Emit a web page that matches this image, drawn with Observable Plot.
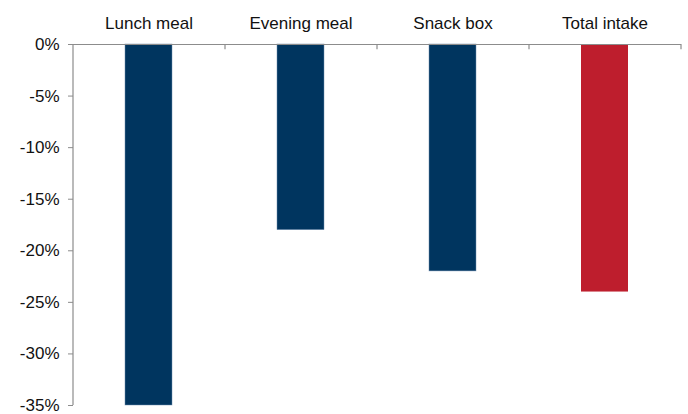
<!DOCTYPE html>
<html>
<head>
<meta charset="utf-8">
<script src="https://cdn.jsdelivr.net/npm/d3@7"></script>
<script src="https://cdn.jsdelivr.net/npm/@observablehq/plot@0.6"></script>
<style>
  html, body { margin: 0; padding: 0; background: #fff; }
  #chart { width: 688px; height: 414px; }
</style>
</head>
<body>
<div id="chart"></div>
<script>
const categories = ["Lunch meal", "Evening meal", "Snack box", "Total intake"];
const values = [-35, -18, -22, -24];
const colors = ["#00355F", "#00355F", "#00355F", "#BE1E2D"];
const yTicks = [0, -5, -10, -15, -20, -25, -30, -35];

const data = categories.map((c, i) => ({ category: c, value: values[i], color: colors[i] }));

const W = 688, H = 414;
const mL = 73, mR = 7, mT = 44, mB = 9;
const step = (W - mL - mR) / categories.length;
const axisGray = "#8c8c8c";

const chart = Plot.plot({
  width: W,
  height: H,
  marginLeft: mL,
  marginRight: mR,
  marginTop: mT,
  marginBottom: mB,
  style: { fontFamily: "Liberation Sans, Arial, sans-serif", fontSize: "17px", color: "#111", background: "#fff", overflow: "visible" },
  x: { domain: categories, paddingInner: 0.69, paddingOuter: 0.345, axis: null },
  y: { domain: [-35, 0], axis: null },
  marks: [
    Plot.barY(data, { x: "category", y: "value", fill: "color", stroke: "#6f8fb0", strokeWidth: 0.6, strokeOpacity: d => d.color === "#BE1E2D" ? 0 : 0.8 }),
    Plot.ruleY([0], { stroke: axisGray, strokeWidth: 1.2 }),
    Plot.ruleX([categories[0]], { x: d => d, y1: -35, y2: 0, dx: -step / 2, stroke: axisGray, strokeWidth: 1.2 }),
    Plot.ruleX(categories.slice(1), { x: d => d, y1: 0, y2: -0.5, dx: -step / 2, stroke: axisGray, strokeWidth: 1.2 }),
    Plot.ruleX([categories[categories.length - 1]], { x: d => d, y1: 0, y2: -0.5, dx: step / 2, stroke: axisGray, strokeWidth: 1.2 }),
    Plot.axisY({ ticks: yTicks, tickFormat: d => d + "%", tickSize: 5, tickPadding: 9, stroke: axisGray, fontSize: 17, color: "#111", label: null }),
    Plot.axisX({ anchor: "top", tickSize: 0, tickPadding: 16, fontSize: 17, color: "#111", label: null })
  ]
});
document.getElementById("chart").appendChild(chart);
</script>
</body>
</html>
